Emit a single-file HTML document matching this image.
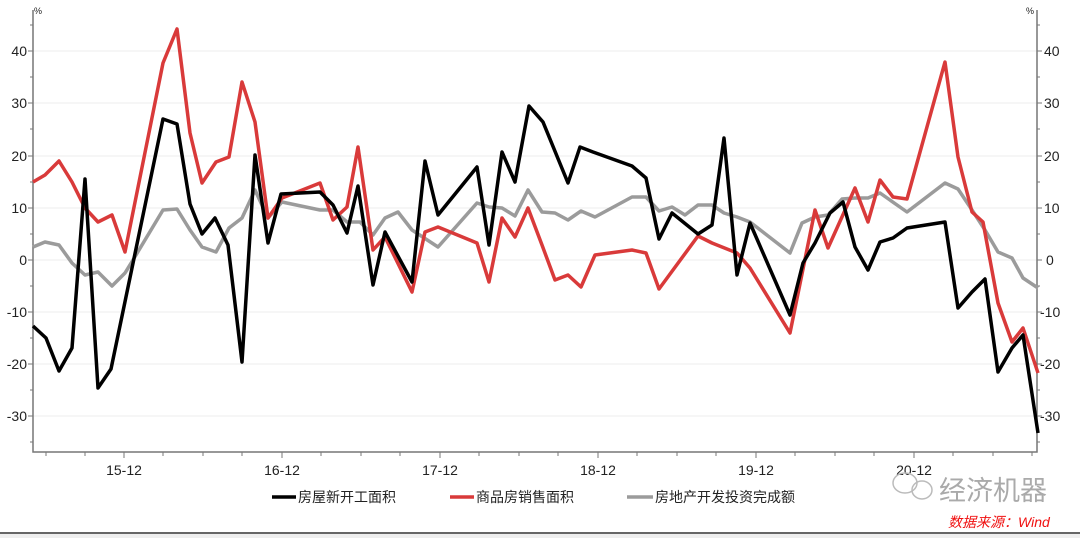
<!DOCTYPE html>
<html><head><meta charset="utf-8"><style>
html,body{margin:0;padding:0;background:#fff;width:1080px;height:538px;overflow:hidden}
svg{display:block}
text{font-family:"Liberation Sans","Noto Sans CJK SC",sans-serif}
</style></head><body>
<svg width="1080" height="538" viewBox="0 0 1080 538">
<rect x="0" y="0" width="1080" height="538" fill="#fff"/>
<g stroke="#eeeeee" stroke-width="1">
<line x1="33" x2="1037" y1="51" y2="51"/><line x1="33" x2="1037" y1="103" y2="103"/>
<line x1="33" x2="1037" y1="156" y2="156"/><line x1="33" x2="1037" y1="208" y2="208"/>
<line x1="33" x2="1037" y1="260" y2="260"/><line x1="33" x2="1037" y1="312" y2="312"/>
<line x1="33" x2="1037" y1="364" y2="364"/><line x1="33" x2="1037" y1="416" y2="416"/>
</g>
<g stroke="#777" stroke-width="1.5" fill="none">
<polyline points="33,10 33,452 1037,452 1037,10"/>
</g>
<g stroke="#777" stroke-width="1">
<path d="M28,51h5M28,103h5M28,156h5M28,208h5M28,260h5M28,312h5M28,364h5M28,416h5M30,25h3M30,77h3M30,129h3M30,182h3M30,234h3M30,286h3M30,338h3M30,390h3M30,442h3"/>
<path d="M1037,51h5M1037,103h5M1037,156h5M1037,208h5M1037,260h5M1037,312h5M1037,364h5M1037,416h5M1037,25h3M1037,77h3M1037,129h3M1037,182h3M1037,234h3M1037,286h3M1037,338h3M1037,390h3M1037,442h3"/>
<path d="M124,452v6M282,452v6M440,452v6M598,452v6M756,452v6M914,452v6"/>
<path d="M46,452v4M85,452v4M163,452v4M203,452v4M242,452v4M321,452v4M361,452v4M400,452v4M479,452v4M519,452v4M558,452v4M637,452v4M677,452v4M716,452v4M795,452v4M835,452v4M874,452v4M953,452v4M993,452v4M1032,452v4"/>
</g>
<g font-size="14" fill="#222" text-anchor="end">
<text x="27" y="56">40</text><text x="27" y="108">30</text><text x="27" y="161">20</text><text x="27" y="213">10</text>
<text x="27" y="265">0</text><text x="27" y="317">-10</text><text x="27" y="369">-20</text><text x="27" y="421">-30</text>
</g>
<g font-size="14" fill="#222" text-anchor="start">
<text x="1044" y="56">40</text><text x="1044" y="108">30</text><text x="1044" y="161">20</text><text x="1044" y="213">10</text>
<text x="1046" y="265">0</text><text x="1040" y="317">-10</text><text x="1040" y="369">-20</text><text x="1040" y="421">-30</text>
</g>
<text x="34" y="14" font-size="9" fill="#222">%</text>
<text x="1026" y="14" font-size="9" fill="#222">%</text>
<g font-size="14" fill="#222" text-anchor="middle">
<text x="124" y="475">15-12</text><text x="282" y="475">16-12</text><text x="440" y="475">17-12</text>
<text x="598" y="475">18-12</text><text x="756" y="475">19-12</text><text x="914" y="475">20-12</text>
</g>
<g fill="none" stroke-width="3.5" stroke-linejoin="round">
<polyline stroke="#9b9b9b" points="33,247 45,242 59,245 72,263 85,275 98,272 112,286 125,273 133,260 163,210 177,209 190,230 202,247 216,252 229,228 242,218 255,190 268,218 282,202 320,210 333,210 347,222 360,222 373,235 385,218 398,212 412,230 438,247 477,203 489,207 502,208 515,216 528,190 542,212 555,213 568,220 581,211 595,217 632,197 646,197 659,211 672,207 685,215 698,205 712,205 724,213 737,217 750,222 790,253 802,223 815,217 828,215 842,199 855,198 868,198 880,193 907,212 945,183 958,189 972,210 985,230 998,252 1012,258 1023,278 1038,288"/>
<polyline stroke="#d93a3a" points="33,182 45,175 59,161 72,182 85,208 98,222 112,215 125,252 163,63 177,29 190,133 202,183 216,162 229,157 242,82 255,122 268,218 282,198 320,183 333,220 347,207 358,147 373,250 385,237 412,292 425,232 438,227 477,243 489,282 502,218 515,237 528,208 542,245 555,280 568,275 581,287 595,255 632,250 646,253 659,289 698,236 712,243 737,253 750,268 790,333 815,210 828,248 855,188 868,222 880,180 893,197 907,199 945,62 958,157 972,212 983,222 998,303 1012,342 1023,328 1038,373"/>
<polyline stroke="#000" points="33,326 46,338 59,371 72,348 85,179 98,388 111,369 163,119 177,124 190,204 202,234 215,218 228,245 242,362 255,155 268,243 281,194 320,192 333,205 347,233 358,186 373,285 385,232 412,282 425,161 438,215 477,167 489,245 502,152 515,182 529,106 543,122 568,183 580,147 593,152 632,166 646,178 659,239 672,213 698,234 712,225 724,138 737,275 750,223 790,315 803,263 815,243 830,213 843,202 855,247 868,270 880,242 893,238 907,228 945,222 958,308 972,292 985,279 998,372 1012,348 1023,335 1038,433"/>
</g>
<g font-size="14" fill="#222">
<line x1="272" x2="296" y1="497" y2="497" stroke="#000" stroke-width="3.5"/>
<text x="298" y="502" font-family="Liberation Sans,Noto Sans CJK SC,sans-serif">房屋新开工面积</text>
<line x1="450" x2="474" y1="497" y2="497" stroke="#d93a3a" stroke-width="3.5"/>
<text x="476" y="502">商品房销售面积</text>
<line x1="627" x2="653" y1="497" y2="497" stroke="#9b9b9b" stroke-width="3.5"/>
<text x="655" y="502">房地产开发投资完成额</text>
</g>
<g fill="none" stroke="#bbb" stroke-width="1.5">
<ellipse cx="905" cy="483" rx="12" ry="10"/>
<ellipse cx="922" cy="490" rx="10" ry="9"/>
</g>
<text x="939" y="500" font-size="27" fill="#aaa">经济机器</text>
<text x="948" y="527" font-size="14" fill="#f01010" font-style="italic">数据来源：Wind</text>
<line x1="0" x2="1080" y1="533" y2="533" stroke="#333" stroke-width="1.5"/>
<rect x="0" y="534" width="1080" height="4" fill="#eee"/>
</svg>
</body></html>
